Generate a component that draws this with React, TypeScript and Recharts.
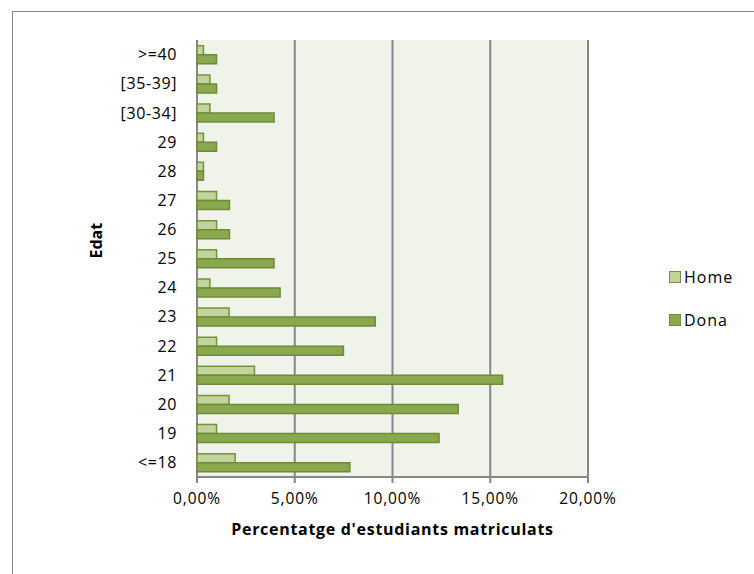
import { BarChart, Bar, XAxis, YAxis, CartesianGrid } from 'recharts'

// Percentatge d'estudiants matriculats per edat i sexe
const categories = ['>=40', '[35-39]', '[30-34]', '29', '28', '27', '26', '25', '24', '23', '22', '21', '20', '19', '<=18']
const home = [0.33, 0.66, 0.66, 0.33, 0.33, 1.0, 1.0, 1.0, 0.66, 1.64, 1.0, 2.94, 1.64, 1.0, 1.95]
const dona = [1.0, 1.0, 3.94, 1.0, 0.33, 1.66, 1.66, 3.94, 4.25, 9.12, 7.49, 15.63, 13.36, 12.38, 7.82]
const xTicks = [0, 5, 10, 15, 20]
// límits entre categories, per a les marques de l'eix vertical
const edgeTicks = [...categories.map((_, i) => i), categories.length]

const data = categories.map((c, i) => ({ edat: c, home: home[i], dona: dona[i] }))

const FONT = '"Open Sans", sans-serif'
const AXIS = '#878787'
const series = [
  { key: 'home', label: 'Home', fill: '#C0D49C', stroke: '#76923F' },
  { key: 'dona', label: 'Dona', fill: '#8BA84C', stroke: '#6E8A3B' },
]

const fmt = (v: number) => v.toFixed(2).replace('.', ',') + '%'

function LegendBox() {
  return (
    <div style={{ position: 'absolute', left: 669, top: 255, fontFamily: FONT, fontSize: 16, color: '#000' }}>
      {series.map(s => (
        <div key={s.key} style={{ display: 'flex', alignItems: 'center', height: 43 }}>
          <span
            style={{
              width: 10,
              height: 10,
              background: s.fill,
              border: `1.5px solid ${s.stroke}`,
              marginRight: 3,
              display: 'inline-block',
            }}
          />
          <span style={{ letterSpacing: 1 }}>{s.label}</span>
        </div>
      ))}
    </div>
  )
}

export default function App() {
  return (
    <div style={{ position: 'absolute', left: 0, top: 0, width: 754, height: 574, background: '#fff', overflow: 'hidden' }}>
      <div
        style={{
          position: 'absolute',
          left: 12,
          top: 11,
          width: 760,
          height: 580,
          borderTop: '1.5px solid #8a8a8a',
          borderLeft: '1.5px solid #8a8a8a',
        }}
      />
      <BarChart
        width={754}
        height={574}
        data={data}
        layout="vertical"
        margin={{ top: 40, right: 166, bottom: 37, left: 87 }}
        barCategoryGap="20%"
        barGap={0}
        style={{ position: 'absolute', left: 0, top: 0 }}
      >
        <CartesianGrid horizontal={false} vertical stroke={AXIS} strokeWidth={2} fill="#EFF3EA" />
        <XAxis
          type="number"
          domain={[0, 20]}
          ticks={xTicks}
          tickFormatter={fmt}
          height={60}
          stroke={AXIS}
          strokeWidth={2}
          tickSize={6}
          tickMargin={10}
          tick={{ fill: '#000', fontSize: 15.5, fontFamily: FONT, letterSpacing: 0.9 }}
          label={{
            value: "Percentatge d'estudiants matriculats",
            position: 'insideBottom',
            offset: 2,
            fill: '#000',
            fontSize: 16,
            fontWeight: 'bold',
            fontFamily: FONT,
            letterSpacing: 0.7,
          }}
        />
        <YAxis
          yAxisId="edges"
          type="number"
          domain={[0, categories.length]}
          ticks={edgeTicks}
          width={0}
          stroke={AXIS}
          strokeWidth={2}
          tickSize={6}
          tick={false}
        />
        <YAxis
          yAxisId="cat"
          type="category"
          dataKey="edat"
          width={110}
          axisLine={false}
          tickLine={false}
          tickSize={6}
          tickMargin={14}
          interval={0}
          tick={{ fill: '#000', fontSize: 16, fontFamily: FONT, letterSpacing: 0.6 }}
          label={{
            value: 'Edat',
            angle: -90,
            position: 'insideLeft',
            offset: 9,
            fill: '#000',
            fontSize: 16,
            fontWeight: 'bold',
            fontFamily: FONT,
          }}
        />
        {series.map(s => (
          <Bar
            key={s.key}
            yAxisId="cat"
            dataKey={s.key}
            name={s.label}
            fill={s.fill}
            stroke={s.stroke}
            strokeWidth={1.5}
            isAnimationActive={false}
          />
        ))}
      </BarChart>
      <LegendBox />
    </div>
  )
}
